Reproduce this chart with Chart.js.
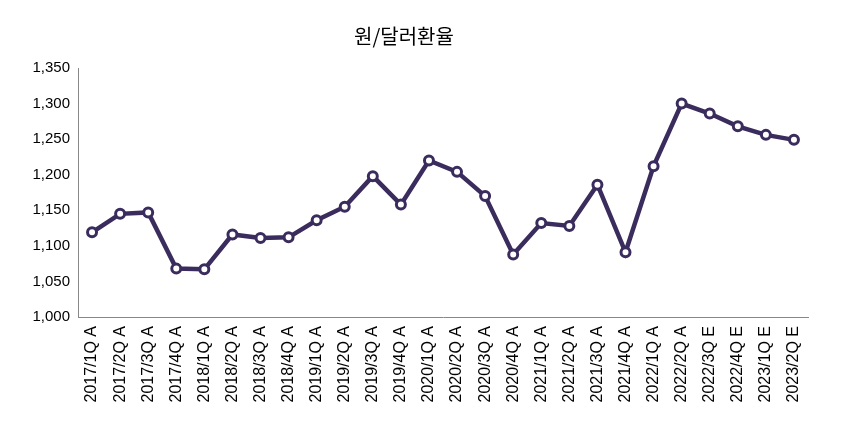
<!DOCTYPE html>
<html><head><meta charset="utf-8">
<script src="https://cdn.jsdelivr.net/npm/chart.js@4"></script>
<style>html,body{margin:0;background:#fff}#w{width:860px;height:437px}</style></head>
<body><div id="w"><canvas id="c"></canvas></div>
<script>
const categories=['2017/1Q A','2017/2Q A','2017/3Q A','2017/4Q A','2018/1Q A','2018/2Q A','2018/3Q A','2018/4Q A','2019/1Q A','2019/2Q A','2019/3Q A','2019/4Q A','2020/1Q A','2020/2Q A','2020/3Q A','2020/4Q A','2021/1Q A','2021/2Q A','2021/3Q A','2021/4Q A','2022/1Q A','2022/2Q A','2022/3Q E','2022/4Q E','2023/1Q E','2023/2Q E'];
const rates=[1119,1145,1147,1068,1067,1116,1111,1112,1136,1155,1198,1158,1220,1204,1170,1088,1132,1128,1186,1091,1212,1300,1286,1268,1256,1249];
const yTicks=[1000,1050,1100,1150,1200,1250,1300,1350];
const col='#3b2c5e';
new Chart(document.getElementById('c'),{type:'line',
data:{labels:categories,datasets:[{data:rates,borderColor:col,borderWidth:4.5,pointRadius:4.5,pointBorderWidth:3,pointBackgroundColor:'#fff',pointBorderColor:col,tension:0}]},
options:{responsive:true,maintainAspectRatio:false,animation:false,
layout:{padding:{left:0,right:52,top:12,bottom:0}},
plugins:{legend:{display:false},tooltip:{enabled:false},
title:{display:true,text:'원/달러환율',color:'#000',font:{size:20,family:'Noto Sans CJK KR',weight:'normal'},padding:{top:12,bottom:20}}},
scales:{
x:{offset:true,afterFit:s=>{s.height=120},grid:{display:false,tickLength:6,offset:true},border:{color:'#888'},
ticks:{color:'#000',maxRotation:90,minRotation:90,autoSkip:false,font:{size:16,family:'Liberation Sans'}}},
y:{min:1000,max:1350,afterFit:s=>{s.width=78},afterBuildTicks:a=>{a.ticks=yTicks.map(v=>({value:v}))},grid:{display:false,tickLength:5},border:{color:'#888'},
ticks:{color:'#000',font:{size:15,family:'Liberation Sans'},callback:v=>v.toLocaleString('en-US')}}}}});
</script></body></html>
